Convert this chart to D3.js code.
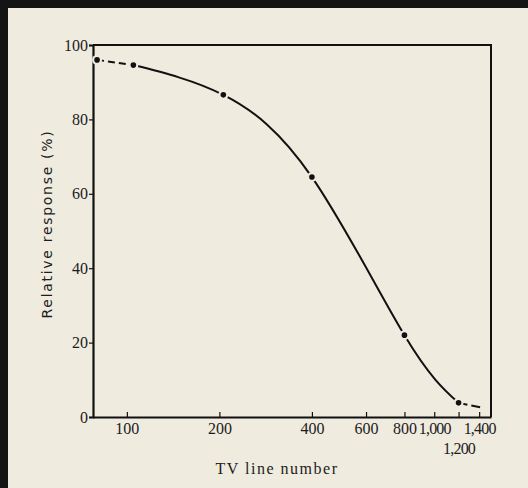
<!DOCTYPE html>
<head>
<meta charset="utf-8">
<title>TV line response</title>
<style>
	body {
		margin: 0;
		overflow: hidden;
		background-color: #efebdf;
	}
	svg { display: block; }
	.tick text { font-family: "Liberation Serif", "DejaVu Serif", serif; font-size: 16px; fill: #1c1c1c; }
	.axis path, .axis line { stroke: #111; }
</style>
</head>
<script src="https://d3js.org/d3.v7.min.js"></script>
<body>
<script>
	// tick values on the TV line axis
	var xTicks = [100, 200, 400, 600, 800, 1000, 1200, 1400];
	var yTicks = [0, 20, 40, 60, 80, 100];

	// measured points (dots)
	var lines = [80, 105, 206, 400, 800, 1200];
	var response = [96, 94.6, 86.6, 64.5, 22, 3.8];

	// curve as drawn
	var curveX = [80, 105, 206, 400, 800, 1200, 1450];
	var curveY = [96, 94.6, 86.6, 64.5, 22, 3.8, 2.4];

	var W = 528, H = 488;
	var plotL = 93, plotR = 491, plotT = 45, plotB = 417;

	var svg = d3.select("body").append("svg")
		.attr("width", W).attr("height", H);

	// paper, with the dark scan edge top and left
	svg.append("rect")
		.attr("width", W).attr("height", H)
		.attr("fill", "#efebdf");
	svg.append("rect")
		.attr("width", W).attr("height", 8)
		.attr("fill", "#141414");
	svg.append("rect")
		.attr("width", 8).attr("height", H)
		.attr("fill", "#141414");

	var x = d3.scaleLog().domain([77.6, 1530]).range([plotL, plotR]);
	var y = d3.scaleLinear().domain([0, 100]).range([plotB, plotT]);

	// frame top + right
	svg.append("path")
		.attr("d", "M" + plotL + "," + plotT + "H" + plotR + "V" + plotB)
		.attr("fill", "none").attr("stroke", "#111").attr("stroke-width", 2);

	var xAxis = svg.append("g")
		.attr("class", "axis")
		.attr("transform", "translate(0," + plotB + ")")
		.call(d3.axisBottom(x).tickValues(xTicks).tickSizeInner(-5).tickSizeOuter(0)
			.tickFormat(d3.format(",")));
	xAxis.select(".domain").attr("stroke-width", 2.2);
	xAxis.selectAll(".tick line").attr("stroke-width", 1.2);
	xAxis.selectAll(".tick text")
		.attr("y", 6)
		.attr("dy", "0.71em")
		.attr("letter-spacing", function(d) { return d >= 1000 ? -0.8 : 0; })
		.filter(function(d) { return d == 1200; })
		.attr("y", 26);

	var yAxis = svg.append("g")
		.attr("class", "axis")
		.attr("transform", "translate(" + plotL + ",0)")
		.call(d3.axisLeft(y).tickValues(yTicks).tickSize(4).tickPadding(1));
	yAxis.select(".domain").attr("stroke-width", 2.2);
	yAxis.selectAll(".tick line").attr("stroke-width", 1.2);

	// axis titles
	svg.append("text")
		.attr("x", 277).attr("y", 474)
		.attr("text-anchor", "middle")
		.attr("font-family", "Liberation Serif, serif")
		.attr("font-size", 16)
		.attr("letter-spacing", 1.5)
		.attr("fill", "#1c1c1c")
		.text("TV line number");

	svg.append("text")
		.attr("transform", "translate(52,224) rotate(-90)")
		.attr("text-anchor", "middle")
		.attr("font-family", "DejaVu Sans, sans-serif")
		.attr("font-size", 14)
		.attr("letter-spacing", 1.7)
		.attr("fill", "#1c1c1c")
		.text("Relative response (%)");

	// the curve
	var pts = curveX.map(function(d, i) { return [d, curveY[i]]; });
	var line = d3.line()
		.x(function(d) { return x(d[0]); })
		.y(function(d) { return y(d[1]); })
		.curve(d3.curveNatural);

	var first = pts.slice(0, 2);
	var middle = pts.slice(1, pts.length - 1);
	var last = pts.slice(pts.length - 2);

	svg.append("path").attr("d", line(middle))
		.attr("fill", "none").attr("stroke", "#111").attr("stroke-width", 2);
	svg.append("path").attr("d", line(first))
		.attr("fill", "none").attr("stroke", "#111").attr("stroke-width", 2)
		.attr("stroke-dasharray", "7,4");
	svg.append("path").attr("d", line(last))
		.attr("fill", "none").attr("stroke", "#111").attr("stroke-width", 2)
		.attr("stroke-dasharray", "9,4");

	// dots with a small paper gap round them
	var dots = svg.append("g");
	dots.selectAll("circle.gap")
		.data(lines)
		.enter().append("circle")
		.attr("class", "gap")
		.attr("r", 5)
		.attr("fill", "#efebdf")
		.attr("cx", function(d) { return x(d); })
		.attr("cy", function(d, i) { return y(response[i]); });
	dots.selectAll("circle.dot")
		.data(lines)
		.enter().append("circle")
		.attr("class", "dot")
		.attr("r", 2.8)
		.attr("fill", "#111")
		.attr("cx", function(d) { return x(d); })
		.attr("cy", function(d, i) { return y(response[i]); });
</script>
</body>
